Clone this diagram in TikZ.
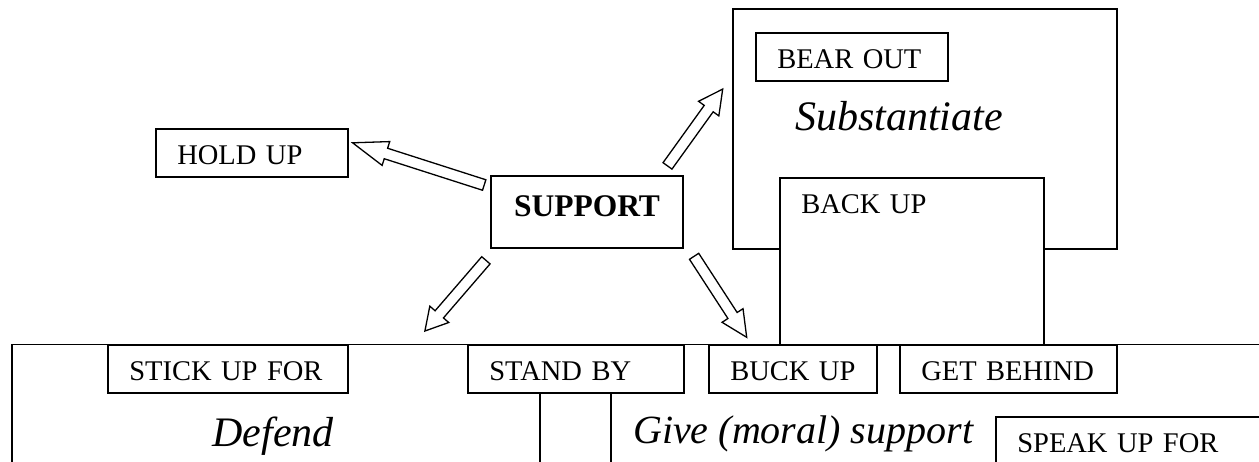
\documentclass[tikz,border=0pt]{standalone}
\usepackage{fontspec}
\setmainfont{Liberation Serif}
\usetikzlibrary{calc,positioning}

\tikzset{
  frame/.style={draw, line width=1.6pt, inner sep=0pt, anchor=north west},
  tag/.style={draw, fill=white, line width=1.6pt, anchor=north west, align=left,
    font=\fontsize{28.5}{30}\selectfont, inner xsep=21.5pt, inner ysep=12pt,
    text height=24pt, text depth=0pt},
  title/.style={anchor=base west, inner sep=0pt, font=\fontsize{42}{46}\selectfont\itshape},
  hollow/.style={draw, line width=1.3pt, line join=miter, fill=white},
  divider/.style={line width=1.1pt},
}

% block arrow with a white body: [head length]{tail}{tip}
\newcommand{\hollowarrow}[3][25]{%
  \coordinate (headbase) at ($(#3)!#1pt!(#2)$);
  \filldraw[hollow] ($(#2)!5.5pt!90:(#3)$) -- ($(headbase)!5.5pt!90:(#3)$)
    -- ($(headbase)!12.5pt!90:(#3)$) -- (#3) -- ($(headbase)!12.5pt!-90:(#3)$)
    -- ($(headbase)!5.5pt!-90:(#3)$) -- ($(#2)!5.5pt!-90:(#3)$) -- cycle;}

\begin{document}
\begin{tikzpicture}[x=1pt,y=-1pt]
  \useasboundingbox (0,0) rectangle (1259,461);
  \clip (0,0) rectangle (1259,461);

  % groups
  \node[frame, minimum width=1300pt, minimum height=200pt] (defendframe) at (11,343.5) {};
  \node[frame, minimum width=384pt, minimum height=240pt] (subst) at (732,8) {};
  \node[title] at ([shift={(63,122)}]subst.north west) {Substantiate};
  \node[title, anchor=base] at ([shift={(262,103)}]defendframe.north west) {Defend};
  \node[title, font=\fontsize{40}{44}\selectfont\itshape] at ([shift={(622,100)}]defendframe.north west) {Give (moral) support};

  % verbs
  \node[tag, text width=221pt, text depth=119pt] (backup) at (779,177) {BACK~UP};
  \node[tag, text width=149pt] (bearout) at (755,32) {BEAR~OUT};
  \node[tag, text width=149pt] (holdup) at (155,128) {HOLD~UP};
  \node[tag, text width=197pt] (stickup) at (107,344) {STICK~UP~FOR};
  \node[tag, text width=173pt] (standby) at (467,344) {STAND~BY};
  \node[tag, text width=125pt] (buckup) at (708,344) {BUCK~UP};
  \node[tag, text width=174pt] (getbehind) at (899,344) {GET~BEHIND};
  \node[tag, text width=257pt, text depth=60pt] (speakup) at (995,416) {SPEAK~UP~FOR};

  \draw[divider] ([xshift=73pt]standby.south west) -- ++(0,80);
  \draw[divider] ([xshift=144pt]standby.south west) -- ++(0,80);

  \node[draw, line width=1.6pt, minimum width=192pt, minimum height=72pt, text depth=11pt,
    font=\fontsize{31.5}{34}\selectfont\bfseries] (support) at (587,212) {SUPPORT};

  % arrows out of SUPPORT
  \coordinate (hold-tail) at ([shift={(-6,-27)}]support.west);
  \coordinate (hold-tip) at ([shift={(4,-10)}]holdup.east);
  \coordinate (subst-tail) at ([shift={(-16.3,-9.3)}]support.north east);
  \coordinate (subst-tip) at ([shift={(-9.3,-39.7)}]subst.west);
  \coordinate (defend-tail) at ([shift={(-4.3,11.5)}]support.south west);
  \coordinate (defend-tip) at ([shift={(76.3,-13)}]stickup.north east);
  \coordinate (buck-tail) at ([shift={(10.3,7.5)}]support.south east);
  \coordinate (buck-tip) at ([shift={(38.7,-6.7)}]buckup.north west);

  \hollowarrow[35]{hold-tail}{hold-tip}
  \hollowarrow[24]{subst-tail}{subst-tip}
  \hollowarrow[22]{defend-tail}{defend-tip}
  \hollowarrow[26]{buck-tail}{buck-tip}
\end{tikzpicture}
\end{document}
